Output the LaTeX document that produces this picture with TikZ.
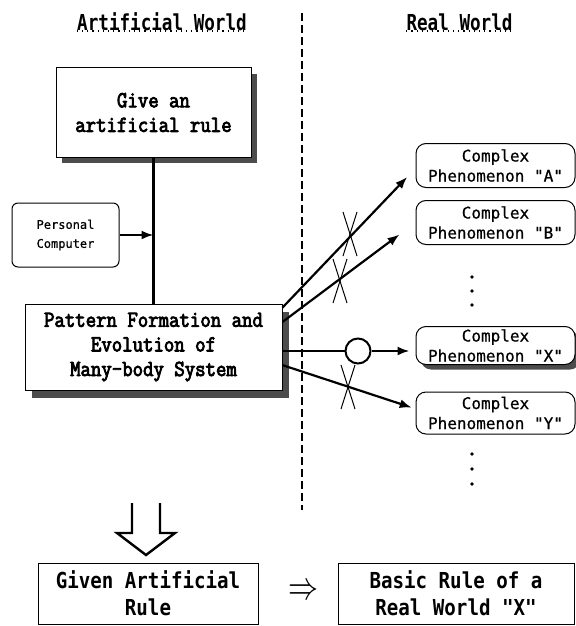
\documentclass[tikz,border=0pt]{standalone}
\usepackage{fontspec}
\usepackage{graphicx}
\usetikzlibrary{arrows.meta,shadows}
\newfontfamily\rulebfont[FakeBold=3.5,FakeStretch=0.88]{Latin Modern Mono}
\newfontfamily\phenfont[FakeBold=0.6]{DejaVu Sans Mono}
\newfontfamily\hdrfont[FakeStretch=0.8]{DejaVu Sans Mono}
\newfontfamily\bottomfont[FakeStretch=0.87]{DejaVu Sans Mono}

\begin{document}
\begin{tikzpicture}
  [x=0.5pt,y=-0.5pt,
   hdr/.style={inner sep=0pt,anchor=base,font=\hdrfont\bfseries\fontsize{11}{13}\selectfont},
   rulebox/.style={draw,line width=0.5pt,fill=white,align=center,inner sep=0pt,
     font=\rulebfont\fontsize{11.5}{12.3}\selectfont},
   shade/.style={drop shadow={shadow xshift=3.2pt,shadow yshift=-3.2pt,fill=black!70,opacity=1}},
   phen/.style={draw,line width=0.5pt,rounded corners=5pt,fill=white,align=center,
     minimum width=79.5pt,minimum height=22pt,inner sep=0pt,
     font=\phenfont\fontsize{8}{10}\selectfont},
   endbox/.style={draw,line width=0.5pt,align=center,inner sep=0pt,minimum height=30.5pt,
     font=\bottomfont\bfseries\fontsize{11}{13.5}\selectfont},
   conn/.style={line width=1.1pt},
   tip/.style={-{Latex[length=6pt,width=4.5pt]}},
   nocross/.style={line width=0.5pt}]

  % headings and the border between the two worlds
  \node[hdr] (artw) at (162,31) {Artificial World};
  \node[hdr] (realw) at (459.5,31) {Real World};
  \draw[dotted,line width=0.6pt] (artw.base west) -- (artw.base east);
  \draw[dotted,line width=0.6pt] (realw.base west) -- (realw.base east);
  \draw[dash pattern=on 4pt off 2pt,line width=0.7pt] (302,13) -- (302,510);

  % artificial side
  \node[rulebox,shade,minimum width=97.5pt,minimum height=44.5pt] (give) at (153.5,112.5)
    {Give an\\artificial rule};
  \node[draw,line width=0.5pt,rounded corners=3pt,align=center,inner sep=0pt,
    minimum width=53.5pt,minimum height=32pt,font=\phenfont\fontsize{6}{9.5}\selectfont]
    (pc) at (65.5,235) {Personal\\Computer};
  \node[rulebox,drop shadow={shadow xshift=3.5pt,shadow yshift=-4pt,fill=black!70,opacity=1},
    minimum width=128.5pt,minimum height=43pt] (pattern) at (153.5,347)
    {Pattern Formation and\\Evolution of\\Many-body System};

  \draw[conn] (give.south) -- (pattern.north);
  \draw[conn,tip] (pc.east) -- (pc.east -| give.south);

  % real side
  \node[phen] (A) at (495.5,165.5) {Complex\\Phenomenon "A"};
  \node[phen] (B) at (495.5,222.5) {Complex\\Phenomenon "B"};
  \node[phen,minimum height=19pt,
    drop shadow={shadow xshift=2.5pt,shadow yshift=-2.5pt,fill=black!70,opacity=1}]
    (X) at (495.5,345.5) {Complex\\Phenomenon "X"};
  \node[phen,minimum height=21pt] (Y) at (495.5,413) {Complex\\Phenomenon "Y"};

  \foreach \dy in {277,291,305,454,469,484}
    \fill (472,\dy) circle (0.9pt);

  \node[draw,circle,line width=1pt,minimum size=12.5pt,inner sep=0pt] (ok) at (358,351) {};

  \draw[conn,tip,shorten >=6pt] (pattern.17) -- (A.182);
  \draw[conn,tip,shorten >=10pt] (pattern.11) -- (B.west);
  \draw[conn] (pattern.east |- ok) -- (ok.west);
  \draw[conn,tip,shorten >=3pt] (ok.east) -- (ok -| X.west);
  \draw[conn,tip,shorten >=2pt] (pattern.352) -- (Y.177);

  \foreach \cx/\cy in {350/234,340/281,348/387}
  {
    \draw[nocross] (\cx-7,\cy-22) -- (\cx+7,\cy+22);
    \draw[nocross] (\cx+7,\cy-22) -- (\cx-7,\cy+22);
  }

  % conclusion
  \draw[line width=1.2pt,line join=miter] (132,503) -- (132,533) -- (117,533)
    -- (146,555) -- (175,533) -- (160,533) -- (160,503);
  \node[endbox,minimum width=110pt] (given) at (148,593.5) {Given Artificial\\Rule};
  \node[endbox,minimum width=118pt] (basic) at (456,593.5) {Basic Rule of a\\Real World "X"};
  \node (imp) at (303,592) {\scalebox{1.5}[2]{$\Rightarrow$}};

  \useasboundingbox (0,0) rectangle (576,626);
\end{tikzpicture}
\end{document}
